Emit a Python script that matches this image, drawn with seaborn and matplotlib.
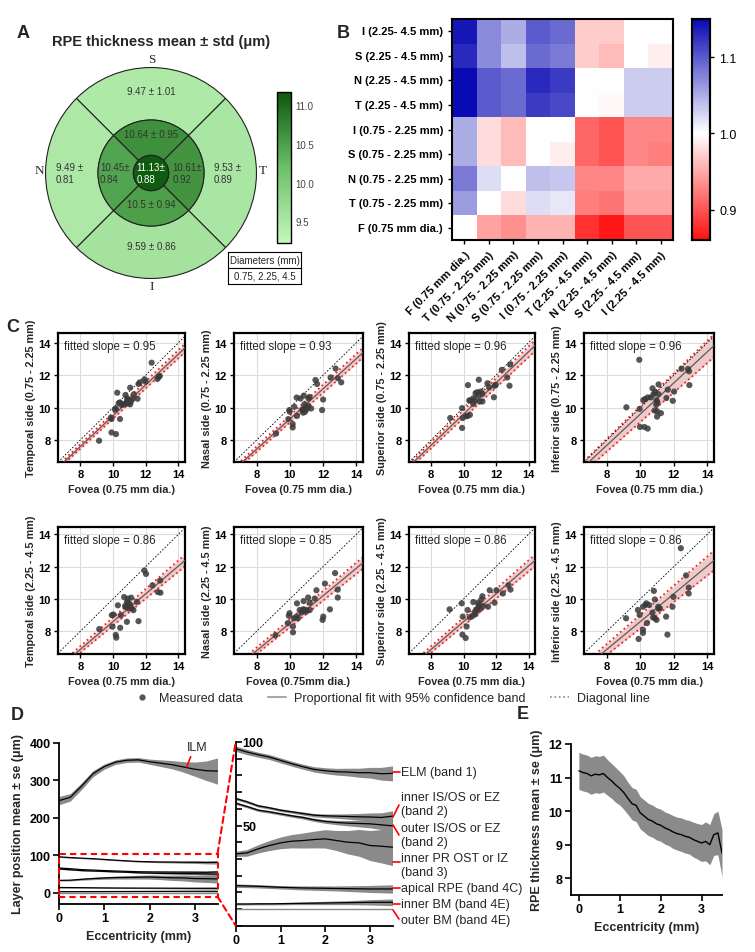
import numpy as np
import pandas as pd
import matplotlib
matplotlib.use('Agg')
import matplotlib.pyplot as plt
import seaborn as sns
from matplotlib.patches import Wedge, Circle, Rectangle, ConnectionPatch
from matplotlib.colors import LinearSegmentedColormap, Normalize
from matplotlib.lines import Line2D
import matplotlib.cm as cm

# ---------------- data ----------------
# Panel A (mean, std): order S, T, I, N
A_center = [11.13, 0.88]
A_inner_mean = [10.64, 10.61, 10.5, 10.45]
A_inner_std = [0.95, 0.92, 0.94, 0.84]
A_outer_mean = [9.47, 9.53, 9.59, 9.49]
A_outer_std = [1.01, 0.89, 0.86, 0.81]

# Panel B
B_cols = ['F (0.75 mm dia.)', 'T (0.75 - 2.25 mm)', 'N (0.75 - 2.25 mm)', 'S (0.75 - 2.25 mm)',
          'I (0.75 - 2.25 mm)', 'T (2.25 - 4.5 mm)', 'N (2.25 - 4.5 mm)', 'S (2.25 - 4.5 mm)',
          'I (2.25 - 4.5 mm)']
B_rows = ['I (2.25- 4.5 mm)', 'S (2.25 - 4.5 mm)', 'N (2.25 - 4.5 mm)', 'T (2.25 - 4.5 mm)',
          'I (0.75 - 2.25 mm)', 'S (0.75 - 2.25 mm)', 'N (0.75 - 2.25 mm)', 'T (0.75 - 2.25 mm)',
          'F (0.75 mm dia.)']
B_r0 = [1.14, 1.07, 1.05, 1.10, 1.09, 0.97, 0.97, 1.00, 1.00]
B_r1 = [1.13, 1.07, 1.04, 1.09, 1.08, 0.97, 0.96, 1.00, 0.99]
B_r2 = [1.16, 1.10, 1.09, 1.13, 1.12, 1.00, 1.00, 1.03, 1.03]
B_r3 = [1.15, 1.10, 1.09, 1.12, 1.11, 1.00, 0.995, 1.03, 1.03]
B_r4 = [1.05, 0.98, 0.96, 1.00, 1.00, 0.91, 0.90, 0.93, 0.93]
B_r5 = [1.05, 0.98, 0.96, 1.00, 0.99, 0.91, 0.90, 0.93, 0.925]
B_r6 = [1.08, 1.02, 1.00, 1.04, 1.035, 0.93, 0.93, 0.95, 0.95]
B_r7 = [1.06, 1.00, 0.98, 1.02, 1.015, 0.925, 0.92, 0.945, 0.945]
B_r8 = [1.00, 0.945, 0.935, 0.955, 0.955, 0.88, 0.865, 0.90, 0.90]

# Panel C scatter points (fovea x, sector y)
fov_T_in = [12.36, 11.99, 11.93, 11.56, 11.64, 11.05, 10.26, 10.76, 10.88, 10.86, 10.94, 10.78, 10.53,
            10.43, 10.18, 11.19, 11.27, 11.5, 12.71, 12.86, 12.79, 9.87, 9.91, 10.43, 9.91, 10.18, 9.15,
            10.35, 10.61, 11.05, 11.09, 10.9, 10.12]
val_T_in = [12.77, 11.6, 11.74, 11.46, 11.56, 11.23, 10.92, 10.78, 10.57, 10.41, 10.26, 10.24, 10.16,
            10.32, 9.95, 10.53, 10.82, 10.55, 11.77, 11.95, 11.89, 9.38, 9.30, 9.30, 8.47, 8.37, 7.96,
            10.28, 10.2, 10.2, 10.37, 10.5, 9.89]
fov_N_in = [12.75, 12.89, 13.09, 12.45, 11.54, 11.64, 12.0, 11.94, 11.18, 11.12, 10.41, 10.64, 10.88,
            10.84, 10.98, 10.78, 11.04, 10.8, 10.92, 10.27, 9.97, 9.99, 9.91, 10.43, 10.17, 10.17, 9.17,
            11.12, 10.74, 11.28]
val_N_in = [12.41, 11.82, 11.56, 11.86, 11.7, 11.46, 10.5, 9.85, 10.66, 10.1, 10.62, 10.56, 10.21,
            10.74, 10.0, 9.91, 9.93, 9.69, 9.75, 10.05, 9.85, 9.75, 9.29, 9.49, 8.99, 8.78, 8.4,
            10.56, 9.85, 9.95]
fov_S_in = [12.87, 12.36, 12.69, 12.83, 11.91, 11.98, 11.87, 11.47, 11.57, 10.94, 10.27, 10.74, 10.84,
            11.06, 11.16, 10.9, 10.6, 10.41, 10.7, 11.0, 11.16, 10.6, 10.35, 9.91, 10.15, 10.25, 10.39,
            9.95, 9.18, 9.91]
val_S_in = [12.67, 12.33, 11.86, 11.35, 11.35, 11.41, 10.64, 11.5, 11.25, 11.72, 11.39, 10.89, 10.95,
            10.99, 10.85, 10.74, 10.58, 10.44, 10.44, 10.38, 10.38, 10.24, 10.44, 9.97, 9.48, 9.48, 9.56,
            9.36, 9.36, 8.75]
fov_I_in = [9.94, 12.85, 12.46, 12.91, 12.93, 12.02, 11.64, 11.09, 11.94, 11.56, 11.23, 10.73, 10.79,
            10.89, 10.44, 10.63, 10.28, 10.18, 10.97, 11.03, 11.09, 10.95, 11.0, 10.85, 11.0, 9.96, 9.17,
            9.98, 10.24, 10.44]
val_I_in = [12.95, 12.38, 12.4, 12.24, 11.39, 10.99, 11.11, 11.43, 10.42, 10.59, 9.66, 11.19, 10.83,
            10.97, 10.63, 10.63, 10.53, 10.46, 10.46, 10.32, 10.83, 10.18, 9.78, 9.82, 9.45, 9.92, 10.02,
            8.81, 8.81, 8.71]
fov_T_out = [11.92, 12.02, 12.41, 12.88, 12.74, 12.9, 11.46, 11.56, 11.11, 10.85, 10.68, 10.91, 10.95,
             11.05, 11.15, 11.25, 10.95, 10.74, 10.3, 10.48, 10.03, 9.93, 9.97, 10.44, 10.85, 10.17, 10.2,
             9.16, 10.78, 11.05]
val_T_out = [11.76, 11.55, 10.84, 11.14, 10.43, 10.39, 9.82, 8.63, 10.08, 9.82, 10.12, 10.02, 9.71,
             9.51, 9.41, 9.31, 9.41, 9.57, 9.61, 9.0, 9.04, 9.0, 8.29, 8.22, 8.59, 7.78, 7.61,
             8.14, 9.51, 9.65]
fov_N_out = [12.72, 12.88, 12.88, 12.41, 12.11, 11.97, 12.01, 11.6, 11.5, 11.1, 11.2, 10.83, 10.59,
             10.79, 10.96, 10.69, 10.85, 10.99, 11.2, 10.43, 10.39, 9.98, 9.94, 9.88, 10.19, 10.19, 9.13,
             10.49, 10.25]
val_N_out = [11.6, 10.58, 10.09, 9.36, 10.95, 8.71, 8.91, 10.54, 10.03, 10.09, 9.77, 9.87, 9.32,
             9.36, 9.32, 9.16, 9.28, 9.22, 9.32, 9.73, 8.91, 9.12, 8.96, 8.51, 8.3, 7.94, 7.76,
             8.81, 8.81]
fov_S_out = [12.77, 12.89, 12.42, 12.02, 11.91, 11.61, 11.51, 11.16, 11.1, 11.2, 10.9, 10.9, 10.8,
             10.7, 10.74, 10.56, 10.39, 10.6, 10.25, 10.19, 10.13, 9.93, 9.95, 9.89, 9.14, 10.94, 11.02]
val_S_out = [10.85, 10.58, 10.34, 10.54, 9.77, 10.54, 9.52, 10.17, 9.97, 9.57, 9.77, 9.48, 9.32,
             9.22, 9.06, 8.96, 8.87, 9.81, 9.32, 8.3, 7.59, 7.8, 8.91, 9.73, 9.36, 9.63, 9.38]
fov_I_out = [12.42, 12.73, 12.89, 12.89, 11.98, 11.92, 11.54, 11.62, 11.17, 11.07, 10.87, 10.81, 10.73,
             10.87, 10.97, 10.53, 10.36, 10.3, 10.16, 9.86, 9.96, 10.16, 10.16, 9.9, 10.4, 9.15, 10.77,
             11.09]
val_I_out = [13.14, 11.46, 10.7, 10.34, 10.13, 9.52, 8.91, 7.8, 9.42, 9.52, 9.97, 10.5, 9.16,
             8.81, 8.71, 9.63, 9.73, 9.63, 9.52, 9.32, 9.02, 8.1, 7.9, 7.53, 8.51, 8.81, 8.87,
             9.4]
C_slopes = [0.95, 0.93, 0.96, 0.96, 0.86, 0.85, 0.86, 0.86]
C_ci = [0.018, 0.021, 0.024, 0.049, 0.025, 0.025, 0.025, 0.042]
C_ylabels = ['Temporal side (0.75 - 2.25 mm)', 'Nasal side (0.75 - 2.25 mm)',
             'Superior side (0.75 - 2.25 mm)', 'Inferior side (0.75 - 2.25 mm)',
             'Temporal side (2.25 - 4.5 mm)', 'Nasal side (2.25 - 4.5 mm)',
             'Superior side (2.25 - 4.5 mm)', 'Inferior side (2.25 - 4.5 mm)']
C_xlabels = ['Fovea (0.75 mm dia.)'] * 5 + ['Fovea (0.75mm dia.)'] + ['Fovea (0.75 mm dia.)'] * 2

# Panel D (layer positions, um) sampled every 0.25 mm
D_ecc = [0.0, 0.25, 0.5, 0.75, 1.0, 1.25, 1.5, 1.75, 2.0, 2.25, 2.5, 2.75, 3.0, 3.25, 3.5]
ILM_mean = [246, 255, 285, 318, 337, 349, 354, 355, 350, 346, 342, 336, 330, 326, 325]
ILM_se = [11, 10, 9, 8, 7, 6, 6, 6, 7, 9, 11, 14, 19, 26, 35]
ELM_mean = [96, 94, 92.4, 91, 89, 87, 85.2, 83.6, 82.8, 82.2, 82, 81.6, 81.6, 81, 81.2]
ELM_se = [1.6, 1.6, 1.5, 1.5, 1.5, 1.5, 1.5, 1.6, 1.8, 2.0, 2.3, 2.7, 3.2, 3.8, 4.5]
ISOSi_mean = [66.2, 64.2, 61.8, 60.6, 59.2, 58.2, 57.2, 56.2, 55.8, 55.6, 55.4, 55.2, 55.1, 54.8, 55.6]
ISOSi_se = [0.8, 0.8, 0.8, 0.8, 0.8, 0.8, 0.9, 1.0, 1.1, 1.3, 1.6, 2.0, 2.4, 2.8, 3.2]
ISOSo_mean = [63.4, 61.4, 59.2, 58.2, 57.0, 55.8, 54.8, 53.4, 52.4, 51.8, 51.4, 51.2, 51.0, 50.4, 49.8]
ISOSo_se = [0.8, 0.8, 0.8, 0.8, 0.8, 0.8, 0.9, 1.0, 1.1, 1.3, 1.6, 2.0, 2.4, 2.8, 3.2]
IZ_mean = [33, 33.6, 36, 38, 39.6, 40.6, 41, 41.6, 42, 41, 40, 39.6, 38, 37.6, 37]
IZ_se = [1.5, 2, 2.5, 3, 3.5, 4, 4.5, 5, 5.5, 6, 7, 8, 9, 10, 11]
RPEa_mean = [14, 13.8, 13.6, 13.3, 13, 12.8, 12.6, 12.5, 12.4, 12.3, 12.2, 12.1, 12, 12, 12]
RPEa_se = [1.0, 1.0, 1.0, 1.0, 1.0, 1.1, 1.2, 1.3, 1.4, 1.5, 1.7, 1.9, 2.1, 2.3, 2.5]
BMi_mean = [3, 3, 3.1, 3.1, 3.2, 3.3, 3.4, 3.5, 3.6, 3.7, 3.8, 3.9, 4, 4, 4]
BMi_se = [0.6, 0.6, 0.6, 0.6, 0.7, 0.7, 0.8, 0.9, 1.0, 1.1, 1.2, 1.4, 1.6, 1.8, 2.0]
BMo_mean = [0] * 15
D_labels = ['ELM (band 1)', 'inner IS/OS or EZ\n(band 2)', 'outer IS/OS or EZ\n(band 2)',
            'inner PR OST or IZ\n(band 3)', 'apical RPE (band 4C)', 'inner BM (band 4E)',
            'outer BM (band 4E)']

# Panel E (RPE thickness) sampled every 0.1 mm
E_ecc = [0.0, 0.1, 0.2, 0.3, 0.4, 0.5, 0.6, 0.7, 0.8, 0.9, 1.0, 1.1, 1.2, 1.3, 1.4, 1.5, 1.6, 1.7,
         1.8, 1.9, 2.0, 2.1, 2.2, 2.3, 2.4, 2.5, 2.6, 2.7, 2.8, 2.9, 3.0, 3.1, 3.2, 3.3, 3.4, 3.5]
E_mean = [11.2, 11.15, 11.12, 11.05, 11.1, 11.08, 11.12, 11.0, 10.9, 10.78, 10.68, 10.55, 10.38, 10.22,
          10.17, 9.95, 9.85, 9.75, 9.7, 9.62, 9.58, 9.5, 9.45, 9.38, 9.33, 9.3, 9.25, 9.22, 9.15, 9.1,
          9.05, 9.1, 9.0, 9.3, 9.35, 8.75]
E_se = [0.55, 0.55, 0.55, 0.55, 0.55, 0.55, 0.55, 0.53, 0.52, 0.52, 0.5, 0.5, 0.48, 0.48, 0.48, 0.48,
        0.48, 0.48, 0.48, 0.48, 0.48, 0.48, 0.48, 0.49, 0.49, 0.5, 0.5, 0.5, 0.52, 0.53, 0.55, 0.58,
        0.6, 0.62, 0.65, 0.7]

# ---------------- style ----------------
sns.set_style('ticks')
plt.rcParams['font.family'] = ['Liberation Sans', 'DejaVu Sans']
plt.rcParams['axes.edgecolor'] = 'black'
plt.rcParams['xtick.color'] = 'black'
plt.rcParams['ytick.color'] = 'black'

W, H = 755, 953
fig = plt.figure(figsize=(W / 100, H / 100), dpi=100)


def add_ax(l, t, r, b, **kw):
    return fig.add_axes([l / W, 1 - b / H, (r - l) / W, (b - t) / H], **kw)


def bold_ticks(ax, size):
    for lab in ax.get_xticklabels() + ax.get_yticklabels():
        lab.set_fontweight('bold')
        lab.set_fontsize(size)


def ftext(x, y, s, **kw):
    fig.text(x / W, 1 - y / H, s, **kw)


# ---------------- Panel A ----------------
cmapA = LinearSegmentedColormap.from_list('gA', ['#c6f7be', '#6cc068', '#0b570b'])
normA = Normalize(vmin=9.22, vmax=11.17)
axA = add_ax(45, 68, 257, 280)
axA.set_xlim(-1.0, 1.0)
axA.set_ylim(-1.0, 1.0)
axA.axis('off')
angles = [(45, 135), (-45, 45), (225, 315), (135, 225)]  # S, T, I, N
for (a0, a1), m in zip(angles, A_outer_mean):
    axA.add_patch(Wedge((0, 0), 0.995, a0, a1, width=0.995 - 0.5, facecolor=cmapA(normA(m)),
                        edgecolor='#222222', lw=0.8))
for (a0, a1), m in zip(angles, A_inner_mean):
    axA.add_patch(Wedge((0, 0), 0.5, a0, a1, width=0.5 - 0.1667, facecolor=cmapA(normA(m)),
                        edgecolor='#222222', lw=0.8))
axA.add_patch(Circle((0, 0), 0.1667, facecolor=cmapA(normA(A_center[0])), edgecolor='#222222', lw=0.8))
tk = dict(fontsize=7, color='#333333', va='center')
axA.text(0, 0.77, f'{A_outer_mean[0]} ± {A_outer_std[0]}', ha='center', **tk)
axA.text(0, -0.69, f'{A_outer_mean[2]} ± {A_outer_std[2]}', ha='center', **tk)
axA.text(-0.9, 0.0, f'{A_outer_mean[3]} ±\n{A_outer_std[3]}', ha='left', **tk)
axA.text(0.59, 0.0, f'{A_outer_mean[1]} ±\n{A_outer_std[1]}', ha='left', **tk)
axA.text(0, 0.37, f'{A_inner_mean[0]} ± {A_inner_std[0]}', ha='center', **tk)
axA.text(0, -0.29, f'{A_inner_mean[2]} ± {A_inner_std[2]}', ha='center', **tk)
axA.text(-0.48, 0.0, f'{A_inner_mean[3]}±\n{A_inner_std[3]}', ha='left', **tk)
axA.text(0.2, 0.0, f'{A_inner_mean[1]}±\n{A_inner_std[1]}', ha='left', **tk)
axA.text(-0.135, 0.0, f'{A_center[0]}±\n{A_center[1]}', ha='left', fontsize=7, color='white', va='center')
ftext(152, 60, 'S', fontsize=9.5, family='Liberation Serif', ha='center', va='center')
ftext(152, 287, 'I', fontsize=9.5, family='Liberation Serif', ha='center', va='center')
ftext(39, 171, 'N', fontsize=9.5, family='Liberation Serif', ha='center', va='center')
ftext(263, 171, 'T', fontsize=9.5, family='Liberation Serif', ha='center', va='center')
ftext(161, 42, 'RPE thickness mean ± std (μm)', fontsize=10.5, fontweight='bold', ha='center', va='center')

caxA = add_ax(277, 93, 291, 244)
cbA = fig.colorbar(cm.ScalarMappable(norm=normA, cmap=cmapA), cax=caxA)
cbA.set_ticks([9.5, 10.0, 10.5, 11.0])
cbA.set_ticklabels(['9.5', '10.0', '10.5', '11.0'])
caxA.tick_params(axis='y', direction='in', length=3, width=0.8, labelsize=7, labelcolor='#444444', pad=3)
cbA.outline.set_linewidth(1.0)

axDia = add_ax(228, 253, 301, 285)
axDia.set_xticks([])
axDia.set_yticks([])
for s in axDia.spines.values():
    s.set_linewidth(0.8)
    s.set_visible(True)
axDia.axhline(0.5, color='black', lw=0.8)
axDia.text(0.5, 0.75, 'Diameters (mm)', ha='center', va='center', fontsize=7, transform=axDia.transAxes)
axDia.text(0.5, 0.25, '0.75, 2.25, 4.5', ha='center', va='center', fontsize=7, transform=axDia.transAxes)

# ---------------- Panel B ----------------
cmapB = LinearSegmentedColormap.from_list('rb', ['#ff0000', '#ffffff', '#0a0ab4'])
dfB = pd.DataFrame([B_r0, B_r1, B_r2, B_r3, B_r4, B_r5, B_r6, B_r7, B_r8], index=B_rows, columns=B_cols)
axB = add_ax(452, 20, 673, 241)
caxB = add_ax(692, 20, 710, 241)
sns.heatmap(dfB, ax=axB, cbar_ax=caxB, cmap=cmapB, center=1.0, vmin=0.86, vmax=1.15,
            xticklabels=B_cols, yticklabels=B_rows)
for s in axB.spines.values():
    s.set_visible(True)
    s.set_linewidth(1.5)
axB.tick_params(left=True, bottom=True, length=3, width=1)
axB.set_xticklabels(B_cols, rotation=45, ha='right', rotation_mode='anchor', fontsize=8, fontweight='bold')
axB.set_yticklabels(B_rows, rotation=0, fontsize=8, fontweight='bold')
axB.set_xlabel('')
axB.set_ylabel('')
caxB.set_yticks([0.9, 1.0, 1.1])
caxB.set_yticklabels(['0.9', '1.0', '1.1'])
caxB.tick_params(labelsize=9, length=3, width=1)
for s in caxB.spines.values():
    s.set_visible(True)
    s.set_linewidth(1.5)

# ---------------- Panel C ----------------
C_data = [(fov_T_in, val_T_in), (fov_N_in, val_N_in), (fov_S_in, val_S_in), (fov_I_in, val_I_in),
          (fov_T_out, val_T_out), (fov_N_out, val_N_out), (fov_S_out, val_S_out), (fov_I_out, val_I_out)]
C_lefts = [58, 234, 409, 584]
C_rights = [185, 363, 535, 714]
C_tops = [334, 528]
C_bots = [463, 655]
C_ylims = [(6.65, 14.6), (6.6, 14.45)]
for i, (xs_, ys_) in enumerate(C_data):
    row, col = divmod(i, 4)
    ax = add_ax(C_lefts[col], C_tops[row], C_rights[col], C_bots[row])
    xl = (6.64, 14.4)
    ax.set_xlim(*xl)
    ax.set_ylim(*C_ylims[row])
    ax.grid(True, color='#dcdcdc', lw=0.8, zorder=0)
    xx = np.linspace(xl[0], xl[1], 50)
    sl, ci = C_slopes[i], C_ci[i]
    ax.fill_between(xx, (sl - ci) * xx, (sl + ci) * xx, color='#ebcccc', lw=0, zorder=1)
    ax.plot(xx, (sl - ci) * xx, color='#ff2020', ls=':', lw=1.3, zorder=2)
    ax.plot(xx, (sl + ci) * xx, color='#ff2020', ls=':', lw=1.3, zorder=2)
    ax.plot(xx, sl * xx, color='#6e5252', lw=0.9, zorder=3)
    ax.plot(xx, xx, color='black', ls=(0, (2, 2)), lw=0.6, zorder=3)
    sns.scatterplot(x=xs_, y=ys_, ax=ax, color='#3a3a3a', s=20, alpha=0.85, edgecolor='none',
                    legend=False, zorder=4)
    ax.set_xticks([8, 10, 12, 14])
    ax.set_yticks([8, 10, 12, 14])
    ax.tick_params(length=3, width=1, pad=2)
    bold_ticks(ax, 8)
    for s in ax.spines.values():
        s.set_linewidth(1.6)
    ax.set_xlabel(C_xlabels[i], fontsize=7.8, fontweight='bold', labelpad=4)
    ax.set_ylabel(C_ylabels[i], fontsize=7.8, fontweight='bold', labelpad=2)
    ax.text(0.05, 0.9, f'fitted slope = {sl:.2f}', transform=ax.transAxes, fontsize=8.3, va='center')

handles = [Line2D([], [], marker='o', ls='none', color='#555555', ms=3.5),
           Line2D([], [], color='#a8a8a8', lw=1.5),
           Line2D([], [], color='#888888', ls=':', lw=1.2)]
fig.legend(handles, ['Measured data', 'Proportional fit with 95% confidence band', 'Diagonal line'],
           loc='center', bbox_to_anchor=(391 / W, 1 - 699 / H), ncol=3, frameon=False, fontsize=9,
           handlelength=1.5, columnspacing=2.0, handletextpad=0.6, borderpad=0.1)

# ---------------- Panel D ----------------
band_c = '#8a8a8a'
axDL = add_ax(59, 744, 217.5, 905)
axDR = add_ax(235.7, 743, 392.5, 926.7)
layers = [(ELM_mean, ELM_se), (ISOSi_mean, ISOSi_se), (ISOSo_mean, ISOSo_se), (IZ_mean, IZ_se),
          (RPEa_mean, RPEa_se), (BMi_mean, BMi_se)]
ecc = np.array(D_ecc)
m = np.array(ILM_mean)
s_ = np.array(ILM_se)
axDL.fill_between(ecc, m - s_, m + s_, color=band_c, lw=0)
axDL.plot(ecc, m, color='black', lw=0.9)
for ax in (axDL, axDR):
    for mm, ss in layers:
        mm = np.array(mm)
        ss = np.array(ss)
        ax.fill_between(ecc, mm - ss, mm + ss, color=band_c, lw=0)
        ax.plot(ecc, mm, color='black', lw=0.9)
    ax.plot(ecc, BMo_mean, color='#888888', lw=1.0)
    sns.despine(ax=ax)
    ax.set_xlim(0, 3.5)
    ax.set_xticks([0, 1, 2, 3])
    for s in ax.spines.values():
        s.set_linewidth(1.3)
axDL.set_ylim(-30, 400)
axDL.set_yticks([0, 100, 200, 300, 400])
axDL.tick_params(length=4, width=1.2, pad=2)
bold_ticks(axDL, 9)
axDL.set_xlabel('Eccentricity (mm)', fontsize=9, fontweight='bold')
axDL.set_ylabel('Layer position mean ± se (μm)', fontsize=9, fontweight='bold')
axDL.add_patch(Rectangle((0, -10), 3.5, 114, fill=False, edgecolor='red', ls=(0, (3, 2)), lw=1.5,
                         clip_on=False, zorder=5))
axDR.set_ylim(-10, 100)
axDR.set_yticks([50, 100])
axDR.set_yticks(np.arange(-10, 101, 10), minor=True)
axDR.tick_params(axis='y', which='both', direction='in', length=4, width=1.2, pad=-5)
axDR.tick_params(axis='x', length=4, width=1.2, pad=2)
bold_ticks(axDR, 9)
for lab in axDR.get_yticklabels():
    lab.set_horizontalalignment('left')
for (xa, ya, xb, yb) in [(3.5, 104, 0, 100), (3.5, -10, 0, -10)]:
    cp = ConnectionPatch((xa, ya), (xb, yb), coordsA='data', coordsB='data', axesA=axDL, axesB=axDR,
                         color='red', ls=(0, (3, 2)), lw=1.5)
    fig.add_artist(cp)

# ---------------- Panel E ----------------
axE = add_ax(570.7, 745, 722, 896)
em = np.array(E_mean)
es = np.array(E_se)
axE.fill_between(E_ecc, em - es, em + es, color=band_c, lw=0)
sns.lineplot(x=E_ecc, y=E_mean, ax=axE, color='black', lw=1.0)
sns.despine(ax=axE)
axE.set_xlim(-0.2, 3.5)
axE.set_ylim(7.5, 12)
axE.set_xticks([0, 1, 2, 3])
axE.set_yticks([8, 9, 10, 11, 12])
axE.tick_params(length=4, width=1.2, pad=2)
for s in axE.spines.values():
    s.set_linewidth(1.3)
bold_ticks(axE, 9)
axE.set_xlabel('Eccentricity (mm)', fontsize=9, fontweight='bold')
axE.set_ylabel('RPE thickness mean ± se (μm)', fontsize=9, fontweight='bold')

# ---------------- overlay annotations ----------------
axO = fig.add_axes([0, 0, 1, 1], zorder=10)
axO.set_xlim(0, W)
axO.set_ylim(H, 0)
axO.axis('off')
axO.patch.set_alpha(0)
lab_y = [773, 805, 836, 866, 889, 905, 921]
lead = [((393, 773), (400, 773)), ((393, 818), (399, 806)), ((393, 826), (399, 836)),
        ((393, 863), (400, 863)), ((393, 889), (400, 889)), ((393, 905), (400, 905)),
        ((393, 911), (399, 920))]
for (p0, p1) in lead:
    axO.plot([p0[0], p1[0]], [p0[1], p1[1]], color='red', lw=1.2)
for txt, yy in zip(D_labels, lab_y):
    axO.text(401, yy, txt, fontsize=9, va='center', ha='left', linespacing=1.15)
axO.plot([190.7, 186.7], [757.7, 768], color='red', lw=1.2)
axO.text(197, 748, 'ILM', fontsize=9, ha='center', va='center')

for letter, (x, y) in zip('ABCDE', [(23, 33), (343, 33), (13, 328), (17, 716), (523, 715)]):
    ftext(x, y, letter, fontsize=13, fontweight='bold', ha='center', va='center')

fig.savefig('out.png', dpi=100)
